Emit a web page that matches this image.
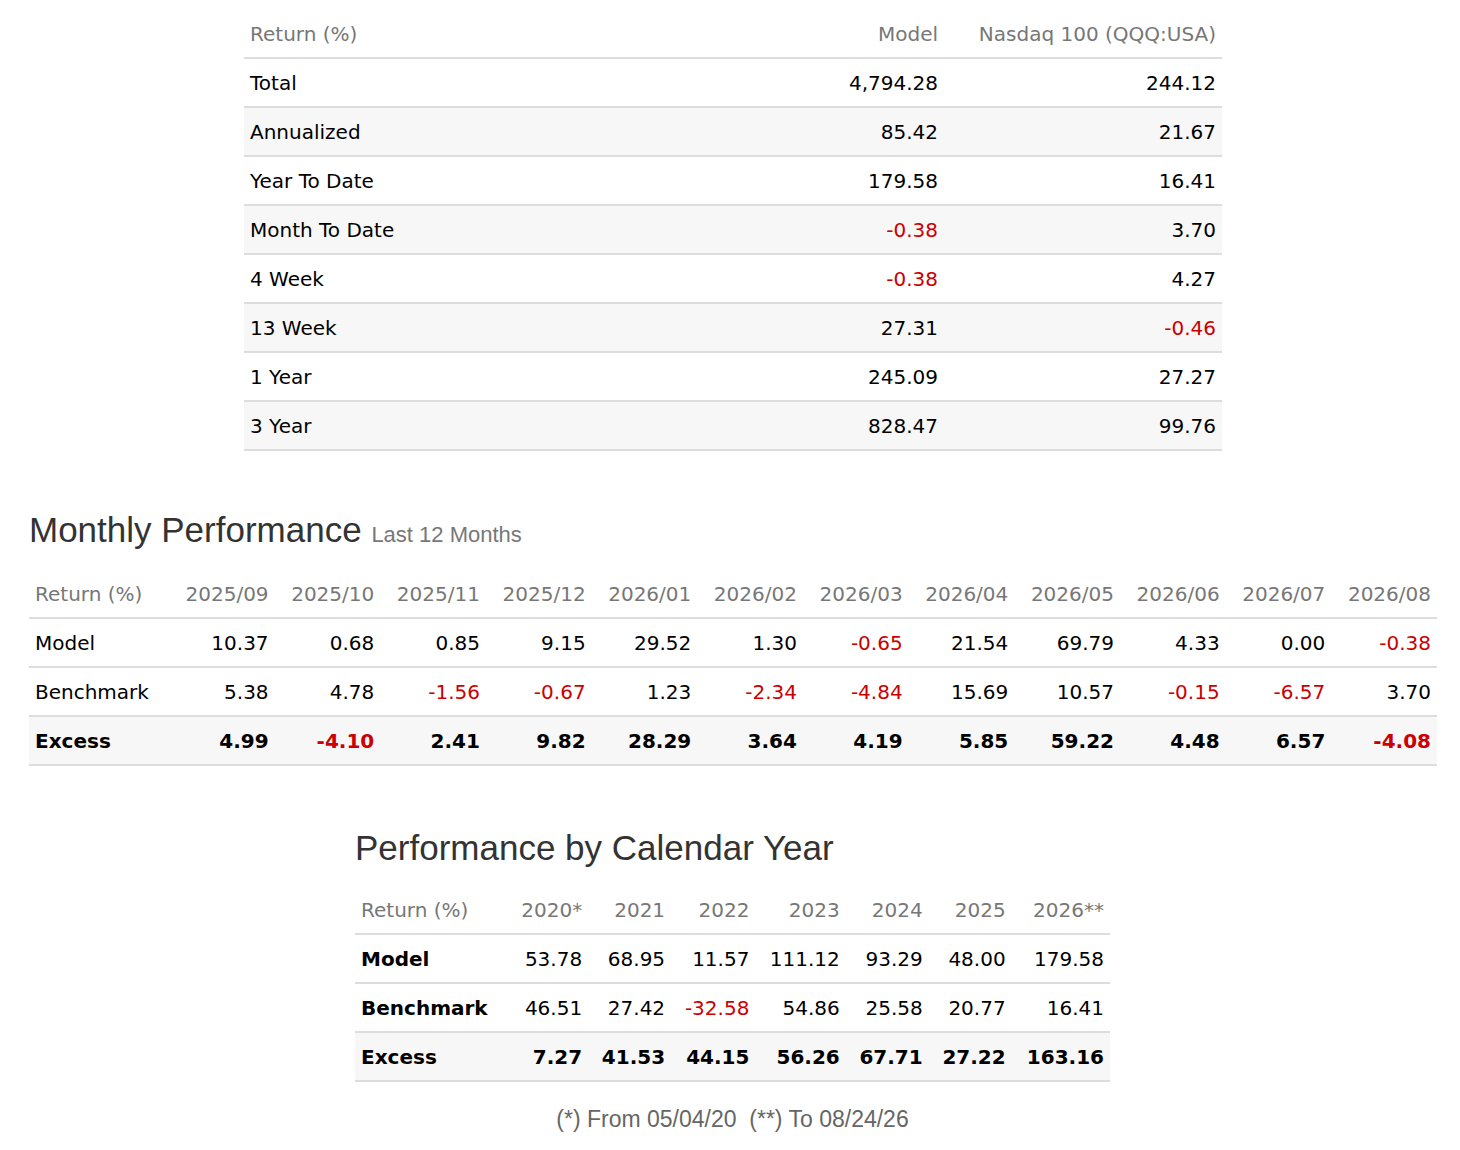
<!DOCTYPE html>
<html><head><meta charset="utf-8">
<script src="https://cdn.jsdelivr.net/npm/chart.js@4"></script>
<style>
body{margin:0;background:#fff;width:1460px;height:1150px;position:relative;font-family:"DejaVu Sans",Verdana,sans-serif;color:#000}
table{border-collapse:collapse;position:absolute;font-size:20px}
td,th{height:47px;border-bottom:2px solid #ddd;padding:0 6px;text-align:right;white-space:nowrap}
th{font-weight:normal;color:#777}
td:first-child,th:first-child{text-align:left}
tr.alt td{background:#f7f7f7}
tr.bold td{font-weight:bold}
.neg{color:#c00}
h2{position:absolute;margin:0;font-family:"Liberation Sans",Arial,sans-serif;font-weight:normal;color:#333;font-size:35px}
h2 small{font-size:22px;color:#777}
.foot{position:absolute;left:355px;width:755px;top:1106px;text-align:center;font-family:"Liberation Sans",Arial,sans-serif;font-size:23px;color:#666}
#summary{table-layout:fixed}
</style></head><body>
<table id="summary" style="left:244px;top:10px;width:978px">
<colgroup><col style="width:500px"><col style="width:200px"><col style="width:278px"></colgroup>
</table>
<h2 style="left:29px;top:510px">Monthly Performance <small>Last 12 Months</small></h2>
<table id="monthly" style="left:29px;top:570px;width:1408px"></table>
<h2 style="left:355px;top:828px">Performance by Calendar Year</h2>
<table id="yearly" style="left:355px;top:886px;width:755px"></table>
<div class="foot">(*) From 05/04/20&nbsp; (**) To 08/24/26</div>
<script>
const summaryLabels = ['Total','Annualized','Year To Date','Month To Date','4 Week','13 Week','1 Year','3 Year'];
const summaryModel = [4794.28,85.42,179.58,-0.38,-0.38,27.31,245.09,828.47];
const summaryBench = [244.12,21.67,16.41,3.70,4.27,-0.46,27.27,99.76];

const months = ['2025/09','2025/10','2025/11','2025/12','2026/01','2026/02','2026/03','2026/04','2026/05','2026/06','2026/07','2026/08'];
const monthModel = [10.37,0.68,0.85,9.15,29.52,1.30,-0.65,21.54,69.79,4.33,0.00,-0.38];
const monthBench = [5.38,4.78,-1.56,-0.67,1.23,-2.34,-4.84,15.69,10.57,-0.15,-6.57,3.70];
const monthExcess = [4.99,-4.10,2.41,9.82,28.29,3.64,4.19,5.85,59.22,4.48,6.57,-4.08];

const years = ['2020*','2021','2022','2023','2024','2025','2026**'];
const yearModel = [53.78,68.95,11.57,111.12,93.29,48.00,179.58];
const yearBench = [46.51,27.42,-32.58,54.86,25.58,20.77,16.41];
const yearExcess = [7.27,41.53,44.15,56.26,67.71,27.22,163.16];

const fmt = v => '<td' + (v < 0 ? ' class="neg"' : '') + '>' +
  v.toLocaleString('en-US', {minimumFractionDigits: 2, maximumFractionDigits: 2}) + '</td>';
const head = cols => '<tr>' + cols.map(c => '<th>' + c + '</th>').join('') + '</tr>';
const row = (label, vals, cls) => '<tr' + (cls ? ' class="' + cls + '"' : '') + '><td>' + label + '</td>' + vals.map(fmt).join('') + '</tr>';

let s = head(['Return (%)','Model','Nasdaq 100 (QQQ:USA)']);
summaryLabels.forEach((l, i) => { s += row(l, [summaryModel[i], summaryBench[i]], i % 2 ? 'alt' : ''); });
document.getElementById('summary').insertAdjacentHTML('beforeend', s);

document.getElementById('monthly').innerHTML = head(['Return (%)'].concat(months)) +
  row('Model', monthModel) + row('Benchmark', monthBench) + row('Excess', monthExcess, 'alt bold');

document.getElementById('yearly').innerHTML = head(['Return (%)'].concat(years)) +
  row('<b>Model</b>', yearModel) + row('<b>Benchmark</b>', yearBench) + row('Excess', yearExcess, 'alt bold');
</script>
</body></html>
